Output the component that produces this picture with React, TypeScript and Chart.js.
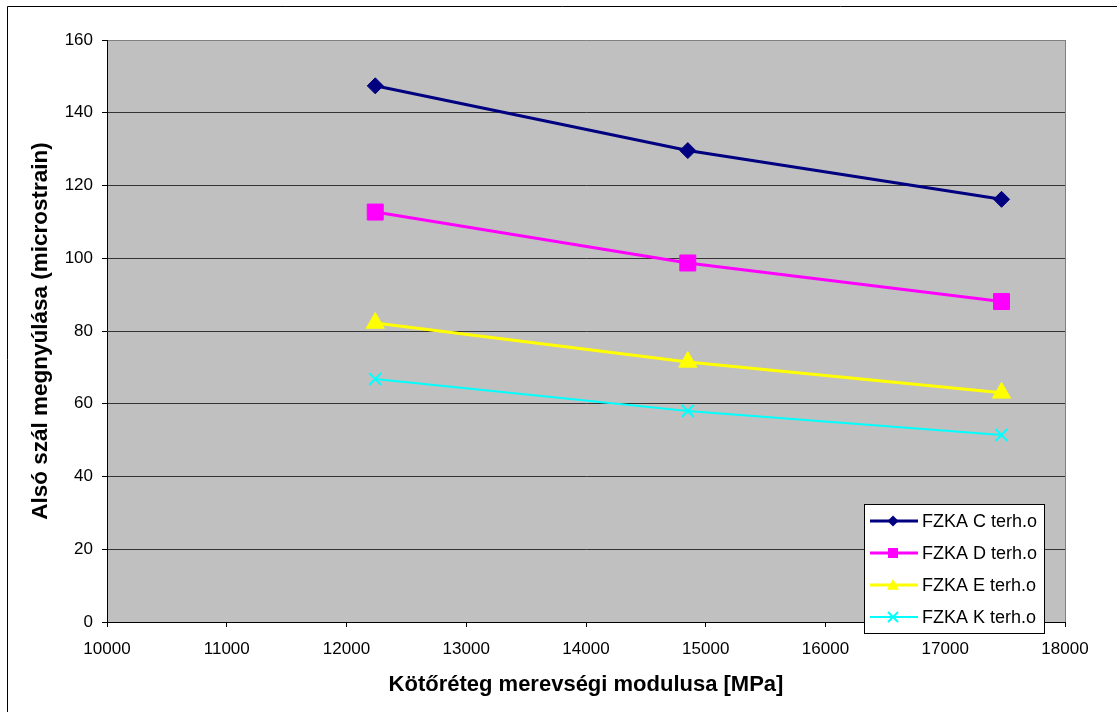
import React, { useEffect, useRef } from 'react';
import { Chart, registerables } from 'chart.js';

Chart.register(...registerables);

// ---- data ----
const seriesNames = ['FZKA C terh.o', 'FZKA D terh.o', 'FZKA E terh.o', 'FZKA K terh.o'];
const modulus = [12240, 14850, 17470];
const strainC = [147.4, 129.6, 116.2];
const strainD = [112.7, 98.7, 88.1];
const strainE = [82.2, 71.5, 63.0];
const strainK = [66.8, 58.0, 51.4];
const xTitle = 'Kötőréteg merevségi modulusa [MPa]';
const yTitle = 'Alsó szál megnyúlása (microstrain)';

const FONT = "'Liberation Sans', Arial, Helvetica, sans-serif";
const colors = ['#000080', '#FF00FF', '#FFFF00', '#00FFFF'];
const lineWidths = [3, 3, 3, 2];
const pointStyles = ['rectRot', 'rect', 'triangle', 'crossRot'];
const pointRadii = [8, 11.3, 10.5, 8.5];

function drawLegendMarker(ctx: CanvasRenderingContext2D, style: string, x: number, y: number, color: string) {
  ctx.save();
  ctx.fillStyle = color;
  ctx.strokeStyle = color;
  ctx.beginPath();
  if (style === 'rectRot') {
    const s = 5.5;
    ctx.moveTo(x, y - s);
    ctx.lineTo(x + s, y);
    ctx.lineTo(x, y + s);
    ctx.lineTo(x - s, y);
    ctx.closePath();
    ctx.fill();
  } else if (style === 'rect') {
    const s = 5;
    ctx.rect(x - s, y - s, 2 * s, 2 * s);
    ctx.fill();
  } else if (style === 'triangle') {
    const s = 6;
    ctx.moveTo(x, y - s);
    ctx.lineTo(x + s, y + s * 0.8);
    ctx.lineTo(x - s, y + s * 0.8);
    ctx.closePath();
    ctx.fill();
  } else {
    const s = 5;
    ctx.lineWidth = 2;
    ctx.moveTo(x - s, y - s);
    ctx.lineTo(x + s, y + s);
    ctx.moveTo(x + s, y - s);
    ctx.lineTo(x - s, y + s);
    ctx.stroke();
  }
  ctx.restore();
}

const decorPlugin = {
  id: 'decor',
  beforeDraw(chart: any) {
    const { ctx, chartArea } = chart;
    ctx.save();
    ctx.fillStyle = '#ffffff';
    ctx.fillRect(0, 0, chart.width, chart.height);
    ctx.fillStyle = '#C0C0C0';
    ctx.fillRect(chartArea.left, chartArea.top, chartArea.right - chartArea.left, chartArea.bottom - chartArea.top);
    ctx.restore();
  },
  afterDraw(chart: any) {
    const { ctx, chartArea } = chart;
    ctx.save();
    // right border of plot area
    ctx.strokeStyle = '#808080';
    ctx.lineWidth = 1;
    ctx.beginPath();
    ctx.moveTo(Math.round(chartArea.right) + 0.5, chartArea.top);
    ctx.lineTo(Math.round(chartArea.right) + 0.5, chartArea.bottom);
    ctx.stroke();
    // outer chart frame
    ctx.strokeStyle = '#000000';
    ctx.beginPath();
    ctx.moveTo(7.5, chart.height + 5);
    ctx.lineTo(7.5, 6.5);
    ctx.lineTo(chart.width + 5, 6.5);
    ctx.stroke();

    // legend
    const lx = 864, ly = 504, lw = 180, lh = 129;
    ctx.fillStyle = '#ffffff';
    ctx.fillRect(lx, ly, lw, lh);
    ctx.strokeStyle = '#000000';
    ctx.strokeRect(lx + 0.5, ly + 0.5, lw, lh);
    const rowYs = [521, 553, 585, 617];
    ctx.font = `18px ${FONT}`;
    ctx.textBaseline = 'middle';
    ctx.textAlign = 'left';
    seriesNames.forEach((name, i) => {
      const y = rowYs[i];
      ctx.strokeStyle = colors[i];
      ctx.lineWidth = lineWidths[i];
      ctx.beginPath();
      ctx.moveTo(870, y);
      ctx.lineTo(918, y);
      ctx.stroke();
      drawLegendMarker(ctx, pointStyles[i], 893, y, colors[i]);
      ctx.fillStyle = '#000000';
      ctx.fillText(name, 922, y + 1);
    });
    ctx.restore();
  },
};

export default function App() {
  const canvasRef = useRef<HTMLCanvasElement | null>(null);

  useEffect(() => {
    const canvas = canvasRef.current;
    if (!canvas) return;
    const seriesValues = [strainC, strainD, strainE, strainK];
    const chart = new Chart(canvas, {
      type: 'line',
      data: {
        datasets: seriesNames.map((name, i) => ({
          label: name,
          data: modulus.map((x, j) => ({ x, y: seriesValues[i][j] })),
          borderColor: colors[i],
          backgroundColor: colors[i],
          borderWidth: lineWidths[i],
          pointStyle: pointStyles[i] as any,
          pointRadius: pointRadii[i],
          pointBorderWidth: i === 3 ? 2 : 1,
          pointBorderColor: colors[i],
          pointBackgroundColor: colors[i],
          tension: 0,
          fill: false,
        })),
      },
      options: {
        animation: false,
        responsive: false,
        events: [],
        layout: { padding: { top: 40, right: 52, bottom: 0, left: 0 } },
        plugins: {
          legend: { display: false },
          tooltip: { enabled: false },
          title: { display: false },
        },
        scales: {
          x: {
            type: 'linear',
            min: 10000,
            max: 18000,
            afterFit: (scale: any) => {
              scale.height = 90;
            },
            ticks: {
              stepSize: 1000,
              color: '#000',
              font: { family: FONT, size: 17 },
              padding: 12,
              maxRotation: 0,
              callback: (v: any) => String(v),
            },
            grid: {
              drawOnChartArea: false,
              drawTicks: true,
              tickLength: 5,
              tickColor: '#000',
              color: '#000',
            },
            border: { display: true, color: '#000', width: 1 },
            title: {
              display: true,
              text: xTitle,
              color: '#000',
              font: { family: FONT, size: 22, weight: 'bold' },
              padding: { top: 0, bottom: 14 },
            },
          },
          y: {
            type: 'linear',
            min: 0,
            max: 160,
            afterFit: (scale: any) => {
              scale.width = 107;
            },
            ticks: {
              stepSize: 20,
              color: '#000',
              font: { family: FONT, size: 17 },
              padding: 9,
              callback: (v: any) => String(v),
            },
            grid: {
              drawOnChartArea: true,
              drawTicks: true,
              tickLength: 5,
              tickColor: '#000',
              color: (ctx: any) => (ctx.tick && ctx.tick.value === 160 ? '#808080' : '#333333'),
            },
            border: { display: true, color: '#000', width: 1 },
            title: {
              display: true,
              text: yTitle,
              color: '#000',
              font: { family: FONT, size: 22.5, weight: 'bold' },
              padding: { top: 27, bottom: 0 },
            },
          },
        },
      },
      plugins: [decorPlugin],
    });
    return () => chart.destroy();
  }, []);

  return (
    <div style={{ position: 'fixed', left: 0, top: 0, width: 1117, height: 712, background: '#fff' }}>
      <canvas ref={canvasRef} width={1117} height={712} style={{ display: 'block', width: 1117, height: 712 }} />
    </div>
  );
}
